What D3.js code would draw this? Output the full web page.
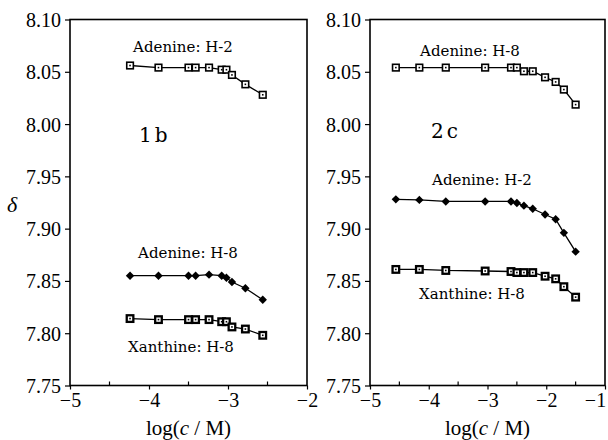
<!DOCTYPE html>
<html>
<head>
<meta charset="utf-8">
<script src="https://cdn.jsdelivr.net/npm/d3@7"></script>
<style>
  body { margin: 0; background: #fff; }
  svg { display: block; }
  .tick text { font-family: "Liberation Serif", serif; font-size: 20px; fill: #000; }
  .note { font-family: "DejaVu Serif", serif; font-size: 15px; fill: #000; }
  .tag { font-family: "DejaVu Serif", serif; font-size: 20px; fill: #000; }
  .title { font-family: "Liberation Serif", serif; font-size: 21px; fill: #000; }
</style>
</head>
<body>
<script>
// chemical shift vs log concentration, two panels (1b and 2c)

// panel 1b
var x1b = [-4.24, -3.88, -3.50, -3.41, -3.24, -3.08, -3.02, -2.95, -2.78, -2.56];
var adenineH2_1b = [8.056, 8.054, 8.054, 8.054, 8.054, 8.052, 8.052, 8.047, 8.038, 8.028];
var adenineH8_1b = [7.855, 7.855, 7.855, 7.855, 7.856, 7.855, 7.853, 7.849, 7.843, 7.832];
var xanthineH8_1b = [7.814, 7.813, 7.813, 7.813, 7.813, 7.811, 7.811, 7.806, 7.804, 7.798];

// panel 2c
var x2c = [-4.56, -4.16, -3.71, -3.04, -2.60, -2.50, -2.38, -2.23, -2.02, -1.84, -1.70, -1.50];
var adenineH8_2c = [8.054, 8.054, 8.054, 8.054, 8.054, 8.054, 8.0505, 8.0505, 8.0447, 8.0403, 8.033, 8.0186];
var adenineH2_2c = [7.928, 7.9275, 7.926, 7.926, 7.926, 7.9245, 7.922, 7.919, 7.9135, 7.909, 7.896, 7.878];
var xanthineH8_2c = [7.861, 7.861, 7.860, 7.8595, 7.859, 7.858, 7.858, 7.858, 7.8545, 7.852, 7.8445, 7.8345];

var yTicks = [7.75, 7.80, 7.85, 7.90, 7.95, 8.00, 8.05, 8.10];
var xTicks1b = [-5, -4, -3, -2];
var xTicks2c = [-5, -4, -3, -2, -1];

var svg = d3.select('body').append('svg')
  .attr('width', 608)
  .attr('height', 440);

var yTop = 19.5, yBottom = 385.5;

function makePanel(opts) {
  var x = d3.scaleLinear().domain(opts.xDomain).range([opts.left, opts.right]);
  var y = d3.scaleLinear().domain([7.75, 8.10]).range([yBottom, yTop]);
  var g = svg.append('g');

  // minor x ticks, pointing inward
  var minor = d3.range(opts.xDomain[0] + 0.5, opts.xDomain[1], 1);
  g.selectAll('.minor').data(minor).enter().append('line')
    .attr('x1', function(d){ return x(d); })
    .attr('x2', function(d){ return x(d); })
    .attr('y1', yBottom)
    .attr('y2', yBottom - 4)
    .attr('stroke', '#000')
    .attr('stroke-width', 1.2);

  var xAxis = g.append('g')
    .attr('transform', 'translate(0,' + yBottom + ')')
    .call(d3.axisBottom(x).tickValues(opts.xTicks).tickFormat(d3.format('d')).tickSize(4).tickPadding(3));
  var yAxis = g.append('g')
    .attr('transform', 'translate(' + opts.left + ',0)')
    .call(d3.axisLeft(y).tickValues(yTicks).tickFormat(d3.format('.2f')).tickSize(5).tickPadding(4));
  [xAxis, yAxis].forEach(function(a){
    a.select('.domain').remove();
    a.selectAll('.tick line').attr('stroke', '#000').attr('stroke-width', 1.2);
  });
  yAxis.selectAll('.tick text').attr('dy', '0.35em');
  // keep the last label inside the page
  if (opts.lastShift) {
    xAxis.selectAll('.tick text').filter(function(d){ return d === opts.xDomain[1]; })
      .attr('dx', opts.lastShift);
  }

  // frame
  g.append('rect')
    .attr('x', opts.left)
    .attr('y', yTop)
    .attr('width', opts.right - opts.left)
    .attr('height', yBottom - yTop)
    .attr('fill', 'none')
    .attr('stroke', '#000')
    .attr('stroke-width', 1.6);

  var line = d3.line()
    .x(function(d){ return x(d[0]); })
    .y(function(d){ return y(d[1]); });

  opts.series.forEach(function(s){
    var pts = d3.zip(opts.xs, s.values);
    g.append('path')
      .datum(pts)
      .attr('d', line)
      .attr('fill', 'none')
      .attr('stroke', '#000')
      .attr('stroke-width', 1.3);

    var m = g.selectAll(null).data(pts).enter().append('g')
      .attr('transform', function(d){ return 'translate(' + x(d[0]) + ',' + y(d[1]) + ')'; });
    if (s.marker === 'diamond') {
      m.append('path')
        .attr('d', 'M0,-4.2L4.2,0L0,4.2L-4.2,0Z')
        .attr('fill', '#000');
    } else {
      var sw = s.marker === 'boldSquare' ? 2.3 : 1.6;
      m.append('rect')
        .attr('x', -3.3).attr('y', -3.3)
        .attr('width', 6.6).attr('height', 6.6)
        .attr('fill', '#fff')
        .attr('stroke', '#000')
        .attr('stroke-width', sw);
      m.append('rect')
        .attr('x', -0.8).attr('y', -0.8)
        .attr('width', 1.6).attr('height', 1.6)
        .attr('fill', '#000');
    }
  });

  opts.notes.forEach(function(n){
    g.append('text')
      .attr('class', 'note')
      .attr('x', n.x)
      .attr('y', n.y)
      .attr('text-anchor', 'middle')
      .text(n.text);
  });

  g.append('text')
    .attr('class', 'tag')
    .attr('x', opts.tag.x)
    .attr('y', opts.tag.y)
    .attr('letter-spacing', 3)
    .text(opts.tag.text);

  var t = g.append('text')
    .attr('class', 'title')
    .attr('x', (opts.left + opts.right) / 2)
    .attr('y', 435)
    .attr('text-anchor', 'middle');
  t.append('tspan').text('log(');
  t.append('tspan').attr('font-style', 'italic').text('c');
  t.append('tspan').text(' / M)');
}

makePanel({
  left: 70, right: 307,
  xDomain: [-5, -2], xTicks: xTicks1b, xs: x1b,
  series: [
    { values: adenineH2_1b, marker: 'square' },
    { values: adenineH8_1b, marker: 'diamond' },
    { values: xanthineH8_1b, marker: 'boldSquare' }
  ],
  notes: [
    { text: 'Adenine: H-2', x: 183, y: 52 },
    { text: 'Adenine: H-8', x: 188, y: 258 },
    { text: 'Xanthine: H-8', x: 181, y: 352 }
  ],
  tag: { text: '1b', x: 139, y: 142 }
});

makePanel({
  left: 370, right: 605,
  xDomain: [-5, -1], xTicks: xTicks2c, xs: x2c,
  lastShift: -10,
  series: [
    { values: adenineH8_2c, marker: 'square' },
    { values: adenineH2_2c, marker: 'diamond' },
    { values: xanthineH8_2c, marker: 'boldSquare' }
  ],
  notes: [
    { text: 'Adenine: H-8', x: 470, y: 56 },
    { text: 'Adenine: H-2', x: 482, y: 185 },
    { text: 'Xanthine: H-8', x: 472, y: 299 }
  ],
  tag: { text: '2c', x: 431, y: 138 }
});

// y axis title
svg.append('text')
  .attr('x', 7)
  .attr('y', 212)
  .attr('font-family', '"Liberation Serif", serif')
  .attr('font-size', 22)
  .attr('font-style', 'italic')
  .text('δ');
</script>
</body>
</html>
